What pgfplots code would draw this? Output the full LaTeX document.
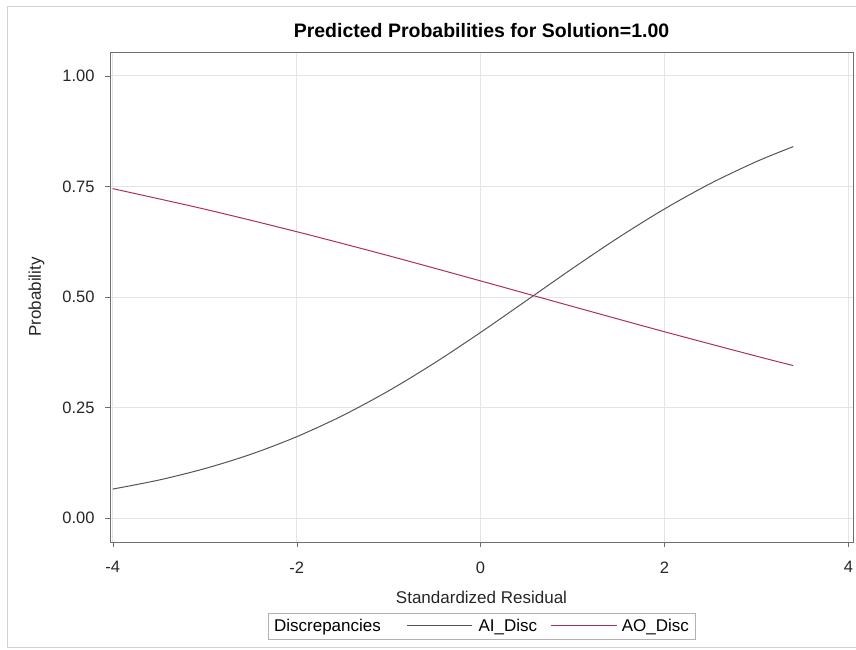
\documentclass[border=0pt]{standalone}
\usepackage{pgfplots}
\pgfplotsset{compat=1.18}
\usepackage{fontspec}
\setmainfont{Liberation Sans}
\definecolor{aicol}{RGB}{85,85,85}
\definecolor{aocol}{RGB}{170,50,85}
\definecolor{gridcol}{RGB}{228,228,228}
\definecolor{axcol}{RGB}{110,110,110}
\begin{document}
\begin{tikzpicture}
\useasboundingbox (0,0) rectangle (856pt,650pt);
\draw[gray!35] (7pt,3pt) rectangle (870pt,644pt);
\begin{axis}[
  at={(110pt,108pt)}, anchor=south west,
  scale only axis, width=743pt, height=490pt,
  xmin=-4.03, xmax=4.05, ymin=-0.054, ymax=1.054,
  xtick={-4,-2,0,2,4}, xticklabels={-4,-2,0,2,4},
  ytick={0,0.25,0.5,0.75,1}, yticklabels={0.00,0.25,0.50,0.75,1.00},
  tick pos=left, tick align=outside, major tick length=5pt,
  grid=major, major grid style={gridcol, line width=0.8pt},
  axis line style={axcol}, tick style={axcol},
  /pgf/number format/assume math mode=true,
  tick label style={font=\fontsize{16.5}{19}\selectfont, text=black!85},
  xticklabel style={yshift=-11pt},
  yticklabel style={xshift=-7pt},
  label style={font=\fontsize{17}{20}\selectfont, text=black!85},
  xlabel={Standardized Residual}, ylabel={Probability},
  xlabel style={at={(axis description cs:0.5,-0.113)}, anchor=center},
  ylabel style={at={(axis description cs:-0.099,0.5)}, anchor=center},
  title={Predicted Probabilities for Solution=1.00},
  title style={font=\bfseries\fontsize{19.5}{23}\selectfont, at={(axis description cs:0.5,1.031)}, anchor=center},
  legend columns=-1,
  legend style={at={(axis description cs:0.5,-0.171)}, anchor=center,
    draw=gray!60, font=\fontsize{17}{20}\selectfont, inner xsep=4pt, inner ysep=4pt,
    /tikz/every even column/.append style={column sep=11pt}},
]
\addlegendimage{empty legend}
\addlegendentry{Discrepancies\hspace*{13pt}}
\addlegendimage{legend image code/.code={\draw[draw=aicol, line width=1pt] (0pt,0pt) -- (65pt,0pt); \path (69pt,0pt);}}
\addlegendentry{AI\_Disc}
\addlegendimage{legend image code/.code={\draw[draw=aocol, line width=1pt] (0pt,0pt) -- (66pt,0pt); \path (69pt,0pt);}}
\addlegendentry{AO\_Disc}
\addplot[aicol, line width=1pt, smooth, forget plot] coordinates {
(-4,0.0657) (-3.5,0.0860) (-3,0.1119) (-2.5,0.1442) (-2,0.1840) (-1.5,0.2319)
(-1,0.2878) (-0.5,0.3510) (0,0.4199) (0.5,0.4921) (1,0.5647) (1.5,0.6345)
(2,0.6991) (2.5,0.7567) (3,0.8062) (3.4,0.8401)};
\addplot[aocol, line width=1pt, smooth, forget plot] coordinates {
(-4,0.7450) (-3,0.6986) (-2,0.6477) (-1,0.5933) (0,0.5364) (1,0.4786)
(2,0.4214) (3,0.3662) (3.4,0.3450)};
\end{axis}
\end{tikzpicture}
\end{document}
